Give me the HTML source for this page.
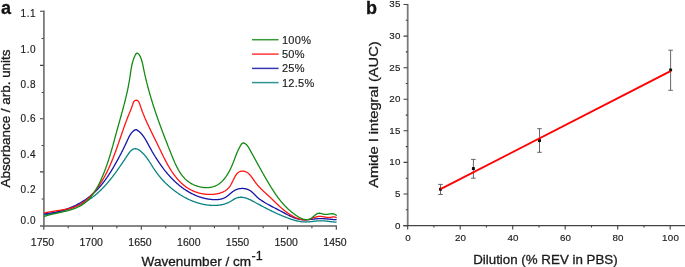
<!DOCTYPE html>
<html><head><meta charset="utf-8"><style>
html,body{margin:0;padding:0;background:#fff;}
body{width:685px;height:267px;overflow:hidden;}
svg{display:block;font-family:"Liberation Sans",sans-serif;will-change:transform;}
text{stroke:#1a1a1a;stroke-width:0.3px;}
text.t{stroke-width:0.15px;}
</style></head><body>
<svg width="685" height="267" viewBox="0 0 685 267">
<text x="1.1" y="14.2" font-size="18" font-weight="bold" fill="#111">a</text>
<path d="M43.9,10.6 V226" stroke="#7a7a7a" stroke-width="1.8" fill="none"/>
<path d="M40,226 H336.9" stroke="#5e5e5e" stroke-width="1.5" fill="none"/>
<path d="M40,11.2 H43.5 M40,65.4 H43.5 M40,118.8 H43.5 M40,171.9 H43.5 M41.6,38.5 H43.5 M41.6,92.5 H43.5 M41.6,145.5 H43.5 M41.6,199.0 H43.5 M43.8,226.2 V229.8 M92.5,226.2 V229.8 M141.3,226.2 V229.8 M190.1,226.2 V229.8 M238.8,226.2 V229.8 M287.6,226.2 V229.8 M336.3,226.2 V229.8 M68.2,226.2 V228.2 M116.9,226.2 V228.2 M165.7,226.2 V228.2 M214.4,226.2 V228.2 M263.2,226.2 V228.2 M311.9,226.2 V228.2" stroke="#404040" stroke-width="1.1" fill="none"/>
<text class="t" x="36.2" y="16.6" font-size="10" text-anchor="end" letter-spacing="0.6" fill="#1a1a1a">1.1</text>
<text class="t" x="36.2" y="53.1" font-size="10" text-anchor="end" letter-spacing="0.6" fill="#1a1a1a">1.0</text>
<text class="t" x="36.2" y="88.1" font-size="10" text-anchor="end" letter-spacing="0.6" fill="#1a1a1a">0.8</text>
<text class="t" x="36.2" y="122.1" font-size="10" text-anchor="end" letter-spacing="0.6" fill="#1a1a1a">0.6</text>
<text class="t" x="36.2" y="157.8" font-size="10" text-anchor="end" letter-spacing="0.6" fill="#1a1a1a">0.4</text>
<text class="t" x="36.2" y="193.1" font-size="10" text-anchor="end" letter-spacing="0.6" fill="#1a1a1a">0.2</text>
<text class="t" x="36.2" y="224.0" font-size="10" text-anchor="end" letter-spacing="0.6" fill="#1a1a1a">0.0</text>
<text class="t" x="42.5" y="245.9" font-size="10.5" text-anchor="middle" fill="#1a1a1a">1750</text>
<text class="t" x="91.2" y="245.9" font-size="10.5" text-anchor="middle" fill="#1a1a1a">1700</text>
<text class="t" x="140.0" y="245.9" font-size="10.5" text-anchor="middle" fill="#1a1a1a">1650</text>
<text class="t" x="188.8" y="245.9" font-size="10.5" text-anchor="middle" fill="#1a1a1a">1600</text>
<text class="t" x="237.5" y="245.9" font-size="10.5" text-anchor="middle" fill="#1a1a1a">1550</text>
<text class="t" x="286.2" y="245.9" font-size="10.5" text-anchor="middle" fill="#1a1a1a">1500</text>
<text class="t" x="335.0" y="245.9" font-size="10.5" text-anchor="middle" fill="#1a1a1a">1450</text>
<text x="141.6" y="266" font-size="12.5" fill="#1a1a1a" textLength="109.5" lengthAdjust="spacingAndGlyphs">Wavenumber / cm</text>
<text x="251.5" y="260.3" font-size="12.5" fill="#1a1a1a">-1</text>
<text transform="translate(10.3,118.5) rotate(-90)" font-size="12.5" text-anchor="middle" fill="#1a1a1a" textLength="138" lengthAdjust="spacingAndGlyphs">Absorbance / arb. units</text>
<path d="M43.98,214.95 L44.48,214.87 L44.97,214.79 L45.47,214.71 L45.96,214.63 L46.45,214.55 L46.95,214.47 L47.44,214.39 L47.93,214.30 L48.42,214.22 L48.92,214.13 L49.41,214.04 L49.90,213.95 L50.39,213.86 L50.88,213.77 L51.38,213.68 L51.87,213.58 L52.36,213.48 L52.85,213.39 L53.34,213.29 L53.83,213.19 L54.32,213.08 L54.81,212.98 L55.29,212.87 L55.78,212.77 L56.27,212.66 L56.76,212.55 L57.25,212.44 L57.73,212.32 L58.22,212.21 L58.71,212.09 L59.19,211.97 L59.68,211.85 L60.16,211.73 L60.65,211.61 L61.13,211.48 L61.61,211.35 L62.10,211.22 L62.58,211.09 L63.06,210.96 L63.54,210.82 L64.02,210.69 L64.50,210.55 L64.98,210.41 L65.46,210.26 L65.94,210.12 L66.42,209.97 L66.90,209.82 L67.37,209.67 L67.85,209.52 L68.33,209.36 L68.80,209.21 L69.27,209.05 L69.75,208.89 L70.22,208.72 L70.69,208.56 L71.16,208.39 L71.63,208.22 L72.10,208.04 L72.57,207.87 L73.04,207.69 L73.50,207.51 L73.97,207.33 L74.43,207.14 L74.90,206.96 L75.36,206.77 L75.82,206.58 L76.28,206.38 L76.74,206.19 L77.20,205.99 L77.66,205.78 L78.12,205.58 L78.57,205.37 L79.03,205.16 L79.48,204.95 L79.93,204.74 L80.38,204.52 L80.83,204.30 L81.28,204.08 L81.72,203.85 L82.17,203.62 L82.61,203.39 L83.05,203.16 L83.49,202.92 L83.93,202.68 L84.37,202.44 L84.81,202.20 L85.24,201.95 L85.68,201.70 L86.11,201.45 L86.54,201.19 L86.97,200.93 L87.39,200.67 L87.82,200.41 L88.24,200.14 L88.66,199.87 L89.08,199.60 L89.50,199.32 L89.91,199.05 L90.33,198.76 L90.74,198.48 L91.15,198.19 L91.56,197.90 L91.96,197.61 L92.36,197.32 L92.77,197.02 L93.16,196.72 L93.56,196.41 L93.96,196.11 L94.35,195.80 L94.74,195.48 L95.13,195.17 L95.52,194.85 L95.90,194.53 L96.28,194.21 L96.66,193.89 L97.04,193.56 L97.42,193.23 L97.79,192.90 L98.16,192.56 L98.53,192.23 L98.90,191.89 L99.27,191.55 L99.63,191.21 L99.99,190.86 L100.36,190.51 L100.71,190.17 L101.07,189.82 L101.43,189.46 L101.78,189.11 L102.13,188.75 L102.48,188.40 L102.83,188.04 L103.17,187.68 L103.52,187.32 L103.86,186.95 L104.20,186.59 L104.54,186.22 L104.88,185.85 L105.22,185.48 L105.55,185.11 L105.89,184.74 L106.22,184.36 L106.55,183.99 L106.88,183.61 L107.20,183.23 L107.53,182.85 L107.85,182.47 L108.18,182.09 L108.50,181.71 L108.82,181.32 L109.14,180.94 L109.46,180.55 L109.77,180.16 L110.09,179.78 L110.40,179.39 L110.71,179.00 L111.02,178.60 L111.33,178.21 L111.64,177.82 L111.95,177.42 L112.26,177.03 L112.56,176.63 L112.87,176.24 L113.17,175.84 L113.47,175.44 L113.77,175.04 L114.07,174.64 L114.37,174.24 L114.67,173.84 L114.97,173.44 L115.27,173.04 L115.56,172.63 L115.86,172.23 L116.15,171.82 L116.44,171.42 L116.73,171.01 L117.03,170.61 L117.32,170.20 L117.61,169.79 L117.90,169.38 L118.18,168.97 L118.47,168.57 L118.76,168.16 L119.04,167.75 L119.33,167.34 L119.62,166.93 L119.90,166.51 L120.18,166.10 L120.47,165.69 L120.75,165.28 L121.03,164.87 L121.32,164.45 L121.60,164.04 L121.88,163.63 L122.16,163.21 L122.44,162.80 L122.72,162.38 L123.00,161.97 L123.28,161.56 L123.56,161.14 L123.84,160.73 L124.12,160.31 L124.40,159.90 L124.67,159.48 L124.95,159.06 L125.23,158.65 L125.51,158.23 L125.79,157.82 L126.06,157.40 L126.34,156.99 L126.62,156.57 L126.90,156.15 L127.17,155.74 L127.45,155.32 L127.73,154.91 L128.01,154.49 L128.29,154.08 L128.57,153.66 L128.86,153.25 L129.15,152.85 L129.45,152.45 L129.75,152.05 L130.07,151.67 L130.40,151.29 L130.74,150.92 L131.09,150.57 L131.46,150.23 L131.85,149.92 L132.26,149.63 L132.69,149.37 L133.14,149.15 L133.61,148.98 L134.09,148.85 L134.58,148.78 L135.08,148.75 L135.58,148.77 L136.08,148.83 L136.57,148.93 L137.05,149.07 L137.52,149.24 L137.97,149.44 L138.42,149.68 L138.85,149.93 L139.26,150.21 L139.67,150.50 L140.07,150.80 L140.46,151.11 L140.85,151.42 L141.23,151.74 L141.61,152.07 L141.98,152.41 L142.35,152.75 L142.70,153.10 L143.06,153.45 L143.41,153.81 L143.75,154.18 L144.09,154.54 L144.42,154.92 L144.75,155.30 L145.07,155.68 L145.39,156.06 L145.70,156.45 L146.01,156.84 L146.32,157.24 L146.62,157.64 L146.92,158.04 L147.22,158.44 L147.51,158.85 L147.80,159.26 L148.08,159.67 L148.36,160.08 L148.64,160.49 L148.92,160.91 L149.20,161.33 L149.47,161.75 L149.75,162.16 L150.02,162.59 L150.29,163.01 L150.55,163.43 L150.82,163.85 L151.09,164.27 L151.35,164.70 L151.62,165.12 L151.89,165.54 L152.15,165.97 L152.42,166.39 L152.69,166.81 L152.95,167.24 L153.22,167.66 L153.49,168.08 L153.76,168.50 L154.03,168.92 L154.31,169.34 L154.58,169.75 L154.86,170.17 L155.14,170.58 L155.43,171.00 L155.71,171.41 L156.00,171.82 L156.29,172.22 L156.58,172.63 L156.88,173.03 L157.18,173.43 L157.48,173.83 L157.78,174.23 L158.08,174.63 L158.39,175.02 L158.70,175.41 L159.01,175.80 L159.33,176.19 L159.65,176.58 L159.96,176.96 L160.29,177.35 L160.61,177.73 L160.94,178.11 L161.27,178.48 L161.60,178.86 L161.93,179.23 L162.26,179.60 L162.60,179.97 L162.94,180.34 L163.28,180.70 L163.63,181.07 L163.97,181.43 L164.32,181.79 L164.67,182.14 L165.02,182.50 L165.38,182.85 L165.74,183.20 L166.09,183.55 L166.45,183.90 L166.82,184.24 L167.18,184.58 L167.55,184.92 L167.92,185.26 L168.29,185.60 L168.66,185.93 L169.03,186.27 L169.41,186.60 L169.78,186.92 L170.16,187.25 L170.54,187.57 L170.93,187.90 L171.31,188.22 L171.70,188.53 L172.08,188.85 L172.47,189.16 L172.87,189.47 L173.26,189.78 L173.65,190.09 L174.05,190.40 L174.45,190.70 L174.85,191.00 L175.25,191.30 L175.65,191.59 L176.06,191.89 L176.46,192.18 L176.87,192.47 L177.28,192.75 L177.69,193.04 L178.11,193.32 L178.52,193.60 L178.94,193.87 L179.36,194.15 L179.77,194.42 L180.20,194.69 L180.62,194.96 L181.04,195.22 L181.47,195.48 L181.90,195.74 L182.33,196.00 L182.76,196.25 L183.19,196.50 L183.62,196.75 L184.06,197.00 L184.50,197.24 L184.94,197.48 L185.38,197.72 L185.82,197.95 L186.26,198.18 L186.71,198.41 L187.15,198.64 L187.60,198.86 L188.05,199.08 L188.50,199.29 L188.95,199.51 L189.41,199.72 L189.86,199.92 L190.32,200.13 L190.78,200.33 L191.24,200.53 L191.70,200.72 L192.16,200.91 L192.62,201.10 L193.09,201.28 L193.55,201.46 L194.02,201.64 L194.49,201.81 L194.96,201.98 L195.43,202.15 L195.91,202.31 L196.38,202.47 L196.86,202.62 L197.33,202.78 L197.81,202.92 L198.29,203.07 L198.77,203.21 L199.25,203.34 L199.73,203.47 L200.22,203.60 L200.70,203.73 L201.19,203.85 L201.67,203.96 L202.16,204.07 L202.65,204.18 L203.14,204.29 L203.63,204.38 L204.12,204.48 L204.61,204.57 L205.10,204.66 L205.60,204.74 L206.09,204.81 L206.59,204.89 L207.08,204.95 L207.58,205.02 L208.07,205.08 L208.57,205.13 L209.07,205.18 L209.57,205.23 L210.06,205.27 L210.56,205.30 L211.06,205.33 L211.56,205.36 L212.06,205.38 L212.56,205.39 L213.06,205.41 L213.56,205.41 L214.06,205.41 L214.56,205.41 L215.06,205.40 L215.56,205.39 L216.06,205.37 L216.56,205.34 L217.06,205.31 L217.56,205.27 L218.06,205.23 L218.55,205.18 L219.05,205.13 L219.55,205.06 L220.04,205.00 L220.54,204.92 L221.03,204.84 L221.52,204.74 L222.01,204.65 L222.50,204.54 L222.99,204.43 L223.47,204.30 L223.95,204.17 L224.44,204.03 L224.91,203.89 L225.39,203.73 L225.86,203.57 L226.33,203.40 L226.80,203.22 L227.26,203.03 L227.72,202.83 L228.18,202.63 L228.63,202.42 L229.08,202.19 L229.52,201.96 L229.96,201.73 L230.40,201.48 L230.83,201.23 L231.26,200.97 L231.69,200.71 L232.11,200.45 L232.54,200.19 L232.97,199.93 L233.39,199.67 L233.82,199.42 L234.26,199.17 L234.69,198.93 L235.14,198.69 L235.59,198.47 L236.04,198.26 L236.50,198.07 L236.97,197.90 L237.45,197.74 L237.93,197.61 L238.42,197.50 L238.91,197.40 L239.40,197.33 L239.90,197.28 L240.40,197.25 L240.90,197.24 L241.40,197.25 L241.90,197.27 L242.40,197.32 L242.89,197.38 L243.39,197.45 L243.88,197.54 L244.37,197.65 L244.85,197.77 L245.33,197.90 L245.81,198.04 L246.29,198.20 L246.76,198.36 L247.23,198.53 L247.70,198.71 L248.16,198.90 L248.62,199.09 L249.08,199.29 L249.54,199.50 L249.99,199.71 L250.44,199.93 L250.89,200.15 L251.33,200.38 L251.78,200.61 L252.22,200.84 L252.66,201.07 L253.10,201.31 L253.54,201.55 L253.98,201.79 L254.42,202.03 L254.86,202.27 L255.30,202.51 L255.74,202.75 L256.18,202.99 L256.61,203.23 L257.05,203.47 L257.49,203.71 L257.93,203.94 L258.37,204.18 L258.81,204.42 L259.25,204.66 L259.69,204.90 L260.13,205.13 L260.57,205.37 L261.01,205.60 L261.46,205.84 L261.90,206.07 L262.34,206.31 L262.78,206.54 L263.22,206.77 L263.67,207.01 L264.11,207.24 L264.55,207.47 L265.00,207.70 L265.44,207.93 L265.89,208.16 L266.33,208.39 L266.78,208.61 L267.22,208.84 L267.67,209.07 L268.11,209.29 L268.56,209.52 L269.01,209.74 L269.45,209.96 L269.90,210.19 L270.35,210.41 L270.80,210.63 L271.25,210.85 L271.70,211.07 L272.15,211.28 L272.60,211.50 L273.05,211.72 L273.50,211.93 L273.96,212.14 L274.41,212.36 L274.86,212.57 L275.31,212.78 L275.77,212.99 L276.22,213.20 L276.68,213.40 L277.13,213.61 L277.59,213.81 L278.05,214.02 L278.50,214.22 L278.96,214.42 L279.42,214.62 L279.88,214.82 L280.34,215.02 L280.80,215.22 L281.26,215.41 L281.72,215.61 L282.18,215.80 L282.64,215.99 L283.10,216.18 L283.57,216.37 L284.03,216.56 L284.49,216.74 L284.96,216.93 L285.42,217.11 L285.89,217.30 L286.36,217.48 L286.82,217.66 L287.29,217.83 L287.76,218.01 L288.23,218.19 L288.70,218.36 L289.16,218.53 L289.64,218.70 L290.11,218.87 L290.58,219.03 L291.05,219.19 L291.53,219.35 L292.00,219.51 L292.48,219.66 L292.95,219.81 L293.43,219.96 L293.91,220.10 L294.39,220.24 L294.87,220.37 L295.36,220.51 L295.84,220.63 L296.32,220.75 L296.81,220.87 L297.30,220.99 L297.79,221.09 L298.28,221.20 L298.77,221.29 L299.26,221.39 L299.75,221.47 L300.24,221.55 L300.74,221.63 L301.23,221.69 L301.73,221.76 L302.23,221.81 L302.72,221.86 L303.22,221.90 L303.72,221.93 L304.22,221.95 L304.72,221.97 L305.22,221.98 L305.72,221.98 L306.22,221.97 L306.72,221.96 L307.22,221.94 L307.72,221.91 L308.22,221.88 L308.72,221.84 L309.22,221.80 L309.71,221.75 L310.21,221.71 L310.71,221.65 L311.21,221.60 L311.70,221.54 L312.20,221.49 L312.70,221.43 L313.19,221.37 L313.69,221.31 L314.19,221.26 L314.68,221.20 L315.18,221.14 L315.68,221.09 L316.18,221.04 L316.67,221.00 L317.17,220.95 L317.67,220.91 L318.17,220.88 L318.67,220.85 L319.17,220.83 L319.67,220.81 L320.17,220.80 L320.67,220.79 L321.17,220.80 L321.67,220.80 L322.17,220.82 L322.67,220.84 L323.17,220.86 L323.67,220.89 L324.16,220.93 L324.66,220.97 L325.16,221.01 L325.66,221.05 L326.16,221.10 L326.65,221.15 L327.15,221.21 L327.65,221.26 L328.15,221.32 L328.64,221.38 L329.14,221.43 L329.64,221.49 L330.13,221.55 L330.63,221.61 L331.13,221.67 L331.62,221.73 L332.12,221.79 L332.62,221.84 L333.11,221.90 L333.61,221.95 L334.11,222.00 L334.61,222.05 L335.10,222.09 L335.60,222.13 L336.10,222.16 L336.60,222.20" stroke="#0a8282" stroke-width="1.3" fill="none" stroke-linejoin="round"/>
<path d="M43.98,213.83 L44.48,213.79 L44.98,213.75 L45.47,213.70 L45.97,213.65 L46.47,213.60 L46.97,213.54 L47.47,213.49 L47.96,213.43 L48.46,213.36 L48.96,213.30 L49.45,213.23 L49.95,213.16 L50.44,213.09 L50.94,213.01 L51.43,212.93 L51.92,212.85 L52.42,212.77 L52.91,212.68 L53.40,212.59 L53.90,212.50 L54.39,212.41 L54.88,212.31 L55.37,212.21 L55.86,212.11 L56.35,212.00 L56.84,211.89 L57.32,211.78 L57.81,211.67 L58.30,211.55 L58.78,211.43 L59.27,211.31 L59.75,211.18 L60.24,211.06 L60.72,210.93 L61.20,210.79 L61.69,210.66 L62.17,210.52 L62.65,210.38 L63.13,210.23 L63.60,210.09 L64.08,209.94 L64.56,209.78 L65.03,209.63 L65.51,209.47 L65.98,209.31 L66.46,209.15 L66.93,208.98 L67.40,208.81 L67.87,208.64 L68.34,208.46 L68.81,208.29 L69.27,208.11 L69.74,207.92 L70.20,207.74 L70.67,207.55 L71.13,207.36 L71.59,207.16 L72.05,206.97 L72.51,206.77 L72.97,206.57 L73.43,206.36 L73.88,206.15 L74.33,205.94 L74.79,205.73 L75.24,205.51 L75.69,205.29 L76.14,205.07 L76.58,204.84 L77.03,204.62 L77.47,204.39 L77.92,204.15 L78.36,203.92 L78.80,203.68 L79.24,203.44 L79.67,203.19 L80.11,202.95 L80.54,202.70 L80.97,202.44 L81.41,202.19 L81.83,201.93 L82.26,201.67 L82.69,201.41 L83.11,201.14 L83.53,200.87 L83.95,200.60 L84.37,200.32 L84.79,200.05 L85.20,199.77 L85.62,199.49 L86.03,199.20 L86.44,198.91 L86.84,198.62 L87.25,198.33 L87.65,198.03 L88.06,197.73 L88.46,197.43 L88.85,197.13 L89.25,196.82 L89.64,196.51 L90.03,196.20 L90.42,195.89 L90.81,195.57 L91.20,195.25 L91.58,194.93 L91.96,194.60 L92.34,194.28 L92.72,193.95 L93.09,193.62 L93.46,193.28 L93.83,192.94 L94.20,192.60 L94.56,192.26 L94.93,191.92 L95.29,191.57 L95.65,191.22 L96.00,190.87 L96.36,190.51 L96.71,190.16 L97.06,189.80 L97.40,189.44 L97.75,189.07 L98.09,188.71 L98.43,188.34 L98.76,187.97 L99.10,187.60 L99.43,187.22 L99.76,186.85 L100.09,186.47 L100.42,186.09 L100.74,185.71 L101.06,185.32 L101.38,184.94 L101.70,184.55 L102.01,184.16 L102.33,183.77 L102.64,183.38 L102.95,182.99 L103.26,182.59 L103.56,182.20 L103.86,181.80 L104.17,181.40 L104.47,181.00 L104.76,180.60 L105.06,180.19 L105.36,179.79 L105.65,179.38 L105.94,178.98 L106.23,178.57 L106.52,178.16 L106.80,177.75 L107.09,177.34 L107.37,176.92 L107.65,176.51 L107.93,176.09 L108.21,175.68 L108.49,175.26 L108.76,174.84 L109.03,174.42 L109.31,174.00 L109.58,173.58 L109.85,173.16 L110.12,172.74 L110.38,172.32 L110.65,171.89 L110.91,171.47 L111.18,171.04 L111.44,170.61 L111.70,170.19 L111.96,169.76 L112.22,169.33 L112.48,168.90 L112.73,168.47 L112.99,168.04 L113.24,167.61 L113.49,167.18 L113.75,166.75 L114.00,166.31 L114.25,165.88 L114.50,165.45 L114.75,165.01 L114.99,164.58 L115.24,164.14 L115.49,163.70 L115.73,163.27 L115.98,162.83 L116.22,162.39 L116.46,161.96 L116.71,161.52 L116.95,161.08 L117.19,160.64 L117.43,160.20 L117.67,159.76 L117.91,159.33 L118.15,158.89 L118.39,158.45 L118.62,158.01 L118.86,157.56 L119.10,157.12 L119.33,156.68 L119.57,156.24 L119.80,155.80 L120.04,155.36 L120.27,154.91 L120.50,154.47 L120.74,154.03 L120.97,153.58 L121.20,153.14 L121.43,152.69 L121.66,152.25 L121.88,151.80 L122.11,151.36 L122.34,150.91 L122.56,150.46 L122.79,150.02 L123.01,149.57 L123.23,149.12 L123.46,148.67 L123.68,148.22 L123.90,147.77 L124.12,147.32 L124.34,146.87 L124.55,146.42 L124.77,145.97 L124.99,145.52 L125.20,145.07 L125.41,144.61 L125.63,144.16 L125.84,143.71 L126.05,143.26 L126.26,142.80 L126.47,142.35 L126.68,141.89 L126.89,141.44 L127.10,140.98 L127.30,140.53 L127.51,140.07 L127.72,139.61 L127.93,139.16 L128.14,138.71 L128.35,138.25 L128.57,137.80 L128.79,137.35 L129.02,136.91 L129.25,136.46 L129.49,136.02 L129.73,135.59 L129.98,135.16 L130.25,134.73 L130.52,134.31 L130.80,133.89 L131.09,133.49 L131.39,133.09 L131.71,132.70 L132.03,132.32 L132.37,131.95 L132.73,131.60 L133.09,131.26 L133.47,130.93 L133.87,130.62 L134.28,130.34 L134.71,130.08 L135.17,129.88 L135.65,129.76 L136.15,129.75 L136.63,129.87 L137.09,130.08 L137.52,130.34 L137.93,130.62 L138.33,130.92 L138.73,131.22 L139.12,131.54 L139.50,131.86 L139.87,132.19 L140.24,132.54 L140.60,132.89 L140.94,133.25 L141.29,133.61 L141.62,133.99 L141.94,134.37 L142.26,134.75 L142.57,135.15 L142.88,135.54 L143.18,135.94 L143.47,136.35 L143.76,136.76 L144.04,137.17 L144.32,137.59 L144.59,138.01 L144.85,138.44 L145.12,138.86 L145.37,139.29 L145.63,139.72 L145.88,140.15 L146.13,140.59 L146.38,141.02 L146.62,141.46 L146.86,141.90 L147.11,142.34 L147.34,142.78 L147.58,143.22 L147.82,143.66 L148.06,144.10 L148.29,144.54 L148.53,144.98 L148.77,145.42 L149.01,145.86 L149.25,146.30 L149.49,146.74 L149.73,147.18 L149.97,147.62 L150.21,148.05 L150.45,148.49 L150.70,148.93 L150.94,149.36 L151.19,149.80 L151.44,150.24 L151.69,150.67 L151.93,151.10 L152.18,151.54 L152.44,151.97 L152.69,152.40 L152.94,152.83 L153.19,153.27 L153.45,153.70 L153.71,154.13 L153.96,154.56 L154.22,154.98 L154.48,155.41 L154.74,155.84 L155.00,156.27 L155.27,156.69 L155.53,157.12 L155.80,157.54 L156.06,157.97 L156.33,158.39 L156.60,158.81 L156.87,159.23 L157.14,159.65 L157.41,160.07 L157.69,160.49 L157.96,160.91 L158.24,161.33 L158.52,161.74 L158.80,162.16 L159.08,162.57 L159.36,162.99 L159.64,163.40 L159.93,163.81 L160.21,164.22 L160.50,164.63 L160.79,165.04 L161.08,165.45 L161.37,165.85 L161.67,166.26 L161.96,166.66 L162.26,167.07 L162.55,167.47 L162.85,167.87 L163.15,168.27 L163.46,168.67 L163.76,169.07 L164.07,169.46 L164.37,169.86 L164.68,170.25 L164.99,170.64 L165.30,171.04 L165.62,171.43 L165.93,171.81 L166.25,172.20 L166.57,172.59 L166.89,172.97 L167.21,173.35 L167.54,173.74 L167.86,174.12 L168.19,174.49 L168.52,174.87 L168.85,175.25 L169.18,175.62 L169.52,175.99 L169.85,176.36 L170.19,176.73 L170.53,177.10 L170.87,177.47 L171.22,177.83 L171.56,178.19 L171.91,178.55 L172.26,178.91 L172.61,179.27 L172.96,179.62 L173.32,179.98 L173.67,180.33 L174.03,180.68 L174.39,181.02 L174.76,181.37 L175.12,181.71 L175.49,182.05 L175.86,182.39 L176.23,182.73 L176.60,183.06 L176.97,183.39 L177.35,183.72 L177.73,184.05 L178.11,184.37 L178.49,184.70 L178.88,185.02 L179.26,185.34 L179.65,185.65 L180.04,185.97 L180.43,186.28 L180.83,186.58 L181.22,186.89 L181.62,187.19 L182.02,187.49 L182.43,187.79 L182.83,188.09 L183.24,188.38 L183.64,188.67 L184.05,188.95 L184.47,189.24 L184.88,189.52 L185.30,189.80 L185.71,190.07 L186.13,190.35 L186.56,190.62 L186.98,190.88 L187.41,191.14 L187.83,191.40 L188.26,191.66 L188.70,191.91 L189.13,192.17 L189.56,192.41 L190.00,192.66 L190.44,192.90 L190.88,193.13 L191.32,193.37 L191.77,193.60 L192.22,193.82 L192.66,194.04 L193.11,194.26 L193.57,194.48 L194.02,194.69 L194.48,194.90 L194.93,195.10 L195.39,195.30 L195.85,195.49 L196.31,195.69 L196.78,195.87 L197.24,196.06 L197.71,196.24 L198.18,196.41 L198.65,196.58 L199.12,196.75 L199.60,196.91 L200.07,197.07 L200.55,197.22 L201.02,197.37 L201.50,197.52 L201.98,197.66 L202.47,197.80 L202.95,197.93 L203.43,198.06 L203.92,198.18 L204.40,198.30 L204.89,198.41 L205.38,198.52 L205.87,198.62 L206.36,198.72 L206.85,198.82 L207.34,198.91 L207.84,199.00 L208.33,199.08 L208.82,199.15 L209.32,199.23 L209.82,199.29 L210.31,199.36 L210.81,199.41 L211.31,199.47 L211.81,199.51 L212.30,199.56 L212.80,199.59 L213.30,199.62 L213.80,199.64 L214.30,199.66 L214.80,199.67 L215.30,199.67 L215.80,199.67 L216.31,199.66 L216.81,199.63 L217.30,199.60 L217.80,199.56 L218.30,199.52 L218.80,199.46 L219.29,199.39 L219.79,199.31 L220.28,199.22 L220.77,199.11 L221.26,199.00 L221.74,198.87 L222.22,198.73 L222.70,198.57 L223.17,198.40 L223.63,198.22 L224.09,198.02 L224.55,197.81 L224.99,197.58 L225.43,197.34 L225.86,197.08 L226.28,196.81 L226.69,196.52 L227.10,196.23 L227.50,195.93 L227.90,195.63 L228.29,195.31 L228.67,195.00 L229.06,194.68 L229.44,194.36 L229.82,194.03 L230.20,193.71 L230.59,193.38 L230.97,193.06 L231.36,192.74 L231.74,192.43 L232.14,192.12 L232.53,191.81 L232.94,191.52 L233.35,191.23 L233.76,190.95 L234.19,190.69 L234.62,190.43 L235.06,190.19 L235.51,189.97 L235.96,189.76 L236.42,189.57 L236.89,189.39 L237.36,189.23 L237.84,189.08 L238.33,188.95 L238.81,188.83 L239.30,188.73 L239.80,188.65 L240.29,188.58 L240.79,188.53 L241.29,188.49 L241.79,188.47 L242.29,188.46 L242.79,188.47 L243.29,188.49 L243.79,188.53 L244.29,188.59 L244.78,188.66 L245.27,188.75 L245.76,188.85 L246.25,188.97 L246.73,189.11 L247.21,189.26 L247.68,189.43 L248.14,189.62 L248.60,189.82 L249.05,190.04 L249.49,190.28 L249.92,190.53 L250.34,190.80 L250.75,191.09 L251.16,191.38 L251.55,191.69 L251.93,192.01 L252.31,192.34 L252.68,192.68 L253.05,193.02 L253.41,193.37 L253.77,193.72 L254.12,194.07 L254.47,194.43 L254.82,194.79 L255.17,195.15 L255.52,195.50 L255.87,195.86 L256.22,196.21 L256.58,196.57 L256.94,196.91 L257.31,197.26 L257.68,197.59 L258.05,197.92 L258.44,198.24 L258.83,198.56 L259.22,198.86 L259.62,199.16 L260.03,199.46 L260.44,199.75 L260.85,200.03 L261.26,200.31 L261.68,200.59 L262.10,200.86 L262.52,201.13 L262.94,201.40 L263.37,201.66 L263.79,201.93 L264.22,202.19 L264.65,202.45 L265.08,202.71 L265.51,202.96 L265.94,203.21 L266.37,203.47 L266.81,203.72 L267.24,203.96 L267.68,204.21 L268.11,204.45 L268.55,204.70 L268.99,204.94 L269.43,205.18 L269.87,205.42 L270.31,205.65 L270.75,205.89 L271.19,206.12 L271.64,206.36 L272.08,206.59 L272.52,206.82 L272.96,207.06 L273.41,207.29 L273.85,207.52 L274.30,207.75 L274.74,207.98 L275.19,208.21 L275.63,208.44 L276.08,208.67 L276.52,208.90 L276.97,209.13 L277.41,209.36 L277.86,209.59 L278.30,209.82 L278.74,210.05 L279.19,210.28 L279.63,210.51 L280.07,210.74 L280.52,210.97 L280.96,211.21 L281.40,211.44 L281.84,211.68 L282.29,211.91 L282.73,212.15 L283.17,212.39 L283.61,212.63 L284.05,212.87 L284.49,213.11 L284.93,213.34 L285.37,213.58 L285.81,213.82 L286.25,214.06 L286.69,214.29 L287.13,214.53 L287.58,214.76 L288.02,214.99 L288.46,215.22 L288.91,215.44 L289.36,215.67 L289.81,215.89 L290.26,216.11 L290.71,216.32 L291.16,216.54 L291.62,216.74 L292.08,216.95 L292.53,217.15 L293.00,217.34 L293.46,217.53 L293.92,217.72 L294.39,217.90 L294.86,218.07 L295.33,218.24 L295.81,218.40 L296.28,218.55 L296.76,218.69 L297.24,218.83 L297.73,218.96 L298.21,219.08 L298.70,219.19 L299.19,219.30 L299.68,219.39 L300.18,219.47 L300.67,219.54 L301.17,219.60 L301.67,219.66 L302.16,219.70 L302.66,219.73 L303.16,219.76 L303.66,219.77 L304.16,219.78 L304.66,219.78 L305.16,219.78 L305.67,219.77 L306.17,219.75 L306.67,219.73 L307.17,219.70 L307.66,219.67 L308.16,219.63 L308.66,219.59 L309.16,219.55 L309.66,219.51 L310.16,219.46 L310.66,219.41 L311.15,219.36 L311.65,219.30 L312.15,219.25 L312.65,219.20 L313.14,219.14 L313.64,219.09 L314.14,219.04 L314.64,218.98 L315.14,218.93 L315.63,218.89 L316.13,218.84 L316.63,218.80 L317.13,218.76 L317.63,218.72 L318.13,218.69 L318.63,218.66 L319.13,218.64 L319.63,218.63 L320.13,218.61 L320.63,218.61 L321.13,218.61 L321.63,218.61 L322.13,218.63 L322.63,218.64 L323.13,218.66 L323.63,218.69 L324.13,218.71 L324.63,218.74 L325.13,218.78 L325.63,218.82 L326.13,218.86 L326.63,218.90 L327.13,218.94 L327.62,218.99 L328.12,219.03 L328.62,219.08 L329.12,219.13 L329.62,219.18 L330.12,219.22 L330.61,219.27 L331.11,219.32 L331.61,219.36 L332.11,219.41 L332.61,219.45 L333.11,219.49 L333.60,219.53 L334.10,219.57 L334.60,219.60 L335.10,219.63 L335.60,219.66 L336.10,219.68 L336.60,219.70" stroke="#1414a6" stroke-width="1.3" fill="none" stroke-linejoin="round"/>
<path d="M44.00,213.19 L44.49,213.06 L44.97,212.93 L45.46,212.81 L45.94,212.69 L46.43,212.58 L46.92,212.47 L47.41,212.36 L47.90,212.26 L48.39,212.16 L48.88,212.06 L49.37,211.97 L49.86,211.88 L50.35,211.79 L50.84,211.70 L51.34,211.61 L51.83,211.53 L52.32,211.45 L52.82,211.37 L53.31,211.29 L53.81,211.21 L54.30,211.13 L54.80,211.06 L55.29,210.98 L55.78,210.91 L56.28,210.83 L56.77,210.76 L57.27,210.68 L57.76,210.61 L58.26,210.54 L58.75,210.46 L59.25,210.39 L59.74,210.31 L60.24,210.24 L60.73,210.16 L61.23,210.08 L61.72,210.00 L62.21,209.92 L62.71,209.84 L63.20,209.75 L63.69,209.67 L64.19,209.58 L64.68,209.49 L65.17,209.40 L65.66,209.31 L66.15,209.21 L66.64,209.11 L67.13,209.01 L67.62,208.90 L68.11,208.79 L68.60,208.68 L69.08,208.56 L69.57,208.45 L70.05,208.32 L70.54,208.20 L71.02,208.06 L71.50,207.93 L71.98,207.79 L72.46,207.64 L72.94,207.49 L73.41,207.34 L73.89,207.18 L74.36,207.01 L74.83,206.84 L75.30,206.67 L75.77,206.49 L76.23,206.30 L76.69,206.10 L77.15,205.90 L77.60,205.70 L78.06,205.48 L78.51,205.26 L78.95,205.04 L79.39,204.80 L79.83,204.56 L80.27,204.32 L80.70,204.07 L81.13,203.81 L81.56,203.55 L81.98,203.28 L82.40,203.01 L82.82,202.73 L83.23,202.44 L83.64,202.16 L84.04,201.86 L84.44,201.56 L84.84,201.26 L85.24,200.95 L85.63,200.64 L86.02,200.33 L86.40,200.01 L86.78,199.68 L87.16,199.36 L87.54,199.02 L87.91,198.69 L88.28,198.35 L88.64,198.01 L89.00,197.66 L89.36,197.32 L89.72,196.96 L90.07,196.61 L90.42,196.25 L90.77,195.89 L91.11,195.53 L91.45,195.16 L91.79,194.80 L92.13,194.43 L92.46,194.05 L92.79,193.68 L93.12,193.30 L93.45,192.92 L93.77,192.54 L94.09,192.15 L94.41,191.77 L94.72,191.38 L95.04,190.99 L95.35,190.60 L95.66,190.20 L95.96,189.81 L96.27,189.41 L96.57,189.01 L96.87,188.61 L97.17,188.21 L97.46,187.80 L97.75,187.40 L98.05,186.99 L98.33,186.58 L98.62,186.17 L98.91,185.76 L99.19,185.35 L99.47,184.93 L99.75,184.52 L100.02,184.10 L100.30,183.68 L100.57,183.26 L100.84,182.84 L101.11,182.42 L101.37,182.00 L101.64,181.57 L101.90,181.14 L102.16,180.72 L102.42,180.29 L102.67,179.86 L102.93,179.43 L103.18,179.00 L103.43,178.56 L103.68,178.13 L103.92,177.69 L104.17,177.26 L104.41,176.82 L104.65,176.38 L104.89,175.94 L105.13,175.50 L105.36,175.06 L105.60,174.62 L105.83,174.17 L106.06,173.73 L106.29,173.28 L106.51,172.84 L106.74,172.39 L106.96,171.94 L107.19,171.49 L107.41,171.05 L107.62,170.60 L107.84,170.15 L108.06,169.69 L108.27,169.24 L108.48,168.79 L108.70,168.34 L108.90,167.88 L109.11,167.43 L109.32,166.97 L109.53,166.51 L109.73,166.06 L109.93,165.60 L110.13,165.14 L110.33,164.68 L110.53,164.22 L110.73,163.77 L110.93,163.30 L111.12,162.84 L111.32,162.38 L111.51,161.92 L111.70,161.46 L111.89,161.00 L112.08,160.53 L112.27,160.07 L112.46,159.61 L112.64,159.14 L112.83,158.68 L113.01,158.21 L113.19,157.75 L113.38,157.28 L113.56,156.81 L113.74,156.35 L113.92,155.88 L114.10,155.41 L114.27,154.95 L114.45,154.48 L114.63,154.01 L114.80,153.54 L114.98,153.07 L115.15,152.60 L115.32,152.13 L115.50,151.66 L115.67,151.19 L115.84,150.72 L116.01,150.25 L116.18,149.78 L116.35,149.31 L116.52,148.84 L116.69,148.37 L116.85,147.90 L117.02,147.43 L117.19,146.95 L117.35,146.48 L117.52,146.01 L117.69,145.54 L117.85,145.07 L118.02,144.59 L118.18,144.12 L118.34,143.65 L118.51,143.18 L118.67,142.70 L118.83,142.23 L119.00,141.76 L119.16,141.28 L119.32,140.81 L119.49,140.34 L119.65,139.87 L119.81,139.39 L119.97,138.92 L120.13,138.45 L120.30,137.97 L120.46,137.50 L120.62,137.03 L120.78,136.55 L120.94,136.08 L121.11,135.61 L121.27,135.13 L121.43,134.66 L121.59,134.19 L121.76,133.71 L121.92,133.24 L122.08,132.77 L122.25,132.29 L122.41,131.82 L122.57,131.35 L122.74,130.88 L122.90,130.40 L123.07,129.93 L123.23,129.46 L123.40,128.99 L123.56,128.51 L123.73,128.04 L123.90,127.57 L124.07,127.10 L124.23,126.63 L124.40,126.16 L124.57,125.69 L124.74,125.22 L124.91,124.75 L125.08,124.28 L125.25,123.81 L125.43,123.34 L125.60,122.87 L125.77,122.40 L125.95,121.93 L126.12,121.46 L126.30,120.99 L126.48,120.52 L126.65,120.06 L126.83,119.59 L127.01,119.12 L127.19,118.66 L127.37,118.19 L127.56,117.72 L127.74,117.26 L127.92,116.79 L128.11,116.33 L128.30,115.86 L128.48,115.40 L128.67,114.94 L128.86,114.47 L129.05,114.01 L129.24,113.55 L129.44,113.09 L129.63,112.62 L129.82,112.16 L130.01,111.70 L130.20,111.24 L130.38,110.77 L130.57,110.31 L130.76,109.84 L130.94,109.38 L131.12,108.91 L131.30,108.44 L131.47,107.97 L131.65,107.50 L131.81,107.03 L131.98,106.56 L132.15,106.09 L132.31,105.62 L132.46,105.14 L132.62,104.67 L132.77,104.19 L132.93,103.71 L133.10,103.24 L133.28,102.78 L133.49,102.32 L133.73,101.88 L134.00,101.47 L134.32,101.08 L134.70,100.76 L135.13,100.50 L135.60,100.32 L136.09,100.24 L136.59,100.26 L137.07,100.38 L137.53,100.59 L137.94,100.88 L138.30,101.22 L138.61,101.61 L138.87,102.04 L139.11,102.48 L139.31,102.94 L139.50,103.40 L139.67,103.87 L139.83,104.34 L139.99,104.82 L140.14,105.30 L140.30,105.77 L140.46,106.24 L140.62,106.72 L140.78,107.19 L140.94,107.67 L141.11,108.14 L141.27,108.61 L141.44,109.08 L141.61,109.55 L141.78,110.02 L141.96,110.49 L142.13,110.96 L142.31,111.43 L142.48,111.90 L142.66,112.36 L142.84,112.83 L143.02,113.30 L143.21,113.76 L143.39,114.23 L143.58,114.69 L143.77,115.16 L143.95,115.62 L144.14,116.08 L144.34,116.54 L144.53,117.00 L144.72,117.47 L144.92,117.93 L145.12,118.39 L145.31,118.85 L145.51,119.30 L145.71,119.76 L145.91,120.22 L146.12,120.68 L146.32,121.14 L146.53,121.59 L146.73,122.05 L146.94,122.50 L147.14,122.96 L147.35,123.41 L147.56,123.87 L147.77,124.32 L147.98,124.78 L148.19,125.23 L148.41,125.68 L148.62,126.14 L148.83,126.59 L149.05,127.04 L149.26,127.49 L149.48,127.94 L149.69,128.40 L149.91,128.85 L150.13,129.30 L150.34,129.75 L150.56,130.20 L150.78,130.65 L151.00,131.10 L151.22,131.55 L151.44,132.00 L151.66,132.45 L151.88,132.90 L152.10,133.34 L152.32,133.79 L152.54,134.24 L152.76,134.69 L152.98,135.14 L153.20,135.59 L153.43,136.04 L153.65,136.49 L153.87,136.93 L154.09,137.38 L154.31,137.83 L154.53,138.28 L154.75,138.73 L154.98,139.18 L155.20,139.63 L155.42,140.08 L155.64,140.52 L155.86,140.97 L156.08,141.42 L156.30,141.87 L156.52,142.32 L156.74,142.77 L156.96,143.22 L157.18,143.67 L157.40,144.12 L157.62,144.57 L157.83,145.02 L158.05,145.47 L158.27,145.92 L158.49,146.37 L158.70,146.82 L158.92,147.27 L159.14,147.72 L159.35,148.18 L159.57,148.63 L159.78,149.08 L160.00,149.53 L160.22,149.98 L160.43,150.43 L160.65,150.88 L160.87,151.33 L161.09,151.78 L161.30,152.23 L161.52,152.68 L161.74,153.13 L161.96,153.58 L162.18,154.03 L162.40,154.48 L162.62,154.93 L162.84,155.38 L163.06,155.83 L163.28,156.28 L163.51,156.72 L163.73,157.17 L163.96,157.62 L164.18,158.07 L164.41,158.51 L164.64,158.96 L164.87,159.40 L165.10,159.85 L165.33,160.29 L165.56,160.73 L165.79,161.18 L166.03,161.62 L166.26,162.06 L166.50,162.50 L166.74,162.94 L166.98,163.38 L167.22,163.82 L167.46,164.26 L167.70,164.69 L167.95,165.13 L168.20,165.56 L168.44,166.00 L168.69,166.43 L168.95,166.86 L169.20,167.29 L169.46,167.72 L169.72,168.15 L169.98,168.58 L170.24,169.01 L170.50,169.43 L170.77,169.85 L171.03,170.28 L171.30,170.70 L171.58,171.12 L171.85,171.54 L172.13,171.95 L172.41,172.37 L172.69,172.78 L172.97,173.19 L173.26,173.60 L173.55,174.01 L173.84,174.42 L174.14,174.82 L174.43,175.22 L174.73,175.62 L175.04,176.02 L175.34,176.42 L175.65,176.81 L175.96,177.20 L176.28,177.59 L176.60,177.98 L176.92,178.36 L177.24,178.75 L177.57,179.12 L177.90,179.50 L178.23,179.87 L178.57,180.24 L178.91,180.61 L179.25,180.98 L179.59,181.34 L179.94,181.69 L180.30,182.05 L180.65,182.40 L181.01,182.75 L181.38,183.09 L181.74,183.43 L182.11,183.77 L182.49,184.10 L182.87,184.43 L183.25,184.75 L183.63,185.07 L184.02,185.39 L184.41,185.70 L184.81,186.01 L185.20,186.31 L185.61,186.61 L186.01,186.90 L186.42,187.19 L186.83,187.47 L187.25,187.75 L187.67,188.02 L188.09,188.29 L188.52,188.55 L188.95,188.81 L189.38,189.06 L189.81,189.31 L190.25,189.55 L190.69,189.78 L191.14,190.01 L191.59,190.24 L192.04,190.46 L192.49,190.67 L192.94,190.87 L193.40,191.07 L193.86,191.27 L194.33,191.46 L194.79,191.64 L195.26,191.82 L195.73,191.99 L196.20,192.15 L196.68,192.31 L197.16,192.46 L197.63,192.61 L198.11,192.75 L198.59,192.89 L199.08,193.02 L199.56,193.14 L200.05,193.26 L200.54,193.37 L201.02,193.48 L201.51,193.58 L202.01,193.68 L202.50,193.77 L202.99,193.85 L203.48,193.93 L203.98,194.01 L204.47,194.08 L204.97,194.14 L205.47,194.20 L205.97,194.25 L206.46,194.29 L206.96,194.33 L207.46,194.37 L207.96,194.40 L208.46,194.42 L208.96,194.44 L209.46,194.45 L209.96,194.45 L210.46,194.45 L210.96,194.44 L211.46,194.43 L211.96,194.41 L212.46,194.38 L212.96,194.35 L213.46,194.31 L213.96,194.26 L214.45,194.20 L214.95,194.14 L215.45,194.08 L215.94,194.00 L216.44,193.92 L216.93,193.83 L217.42,193.73 L217.91,193.62 L218.39,193.51 L218.88,193.39 L219.36,193.26 L219.84,193.12 L220.32,192.97 L220.80,192.82 L221.27,192.65 L221.74,192.48 L222.20,192.29 L222.66,192.10 L223.12,191.89 L223.57,191.67 L224.01,191.44 L224.45,191.20 L224.88,190.95 L225.31,190.68 L225.72,190.40 L226.13,190.11 L226.53,189.81 L226.92,189.50 L227.30,189.17 L227.67,188.83 L228.03,188.49 L228.37,188.13 L228.71,187.76 L229.04,187.38 L229.35,186.99 L229.66,186.59 L229.95,186.19 L230.23,185.77 L230.50,185.35 L230.76,184.92 L231.01,184.49 L231.25,184.05 L231.49,183.61 L231.72,183.17 L231.95,182.72 L232.17,182.28 L232.39,181.83 L232.61,181.38 L232.83,180.93 L233.04,180.47 L233.26,180.02 L233.48,179.57 L233.69,179.12 L233.91,178.67 L234.14,178.22 L234.37,177.78 L234.60,177.34 L234.84,176.90 L235.08,176.46 L235.33,176.03 L235.59,175.60 L235.86,175.18 L236.15,174.77 L236.44,174.36 L236.75,173.97 L237.08,173.59 L237.42,173.22 L237.78,172.88 L238.16,172.55 L238.56,172.25 L238.98,171.98 L239.42,171.74 L239.88,171.54 L240.35,171.38 L240.84,171.26 L241.33,171.18 L241.83,171.13 L242.33,171.11 L242.83,171.12 L243.33,171.17 L243.82,171.24 L244.31,171.33 L244.80,171.46 L245.27,171.61 L245.74,171.78 L246.20,171.98 L246.65,172.21 L247.08,172.46 L247.50,172.73 L247.91,173.02 L248.31,173.33 L248.69,173.65 L249.06,173.99 L249.41,174.34 L249.76,174.70 L250.09,175.07 L250.42,175.45 L250.74,175.84 L251.05,176.23 L251.35,176.63 L251.65,177.03 L251.94,177.43 L252.23,177.84 L252.52,178.25 L252.80,178.66 L253.08,179.08 L253.36,179.49 L253.64,179.91 L253.93,180.32 L254.21,180.73 L254.50,181.14 L254.79,181.55 L255.08,181.96 L255.38,182.36 L255.68,182.76 L255.98,183.15 L256.29,183.54 L256.61,183.93 L256.93,184.32 L257.25,184.70 L257.57,185.09 L257.90,185.46 L258.23,185.84 L258.56,186.21 L258.90,186.58 L259.24,186.95 L259.58,187.31 L259.93,187.67 L260.28,188.03 L260.63,188.39 L260.98,188.75 L261.33,189.10 L261.69,189.45 L262.05,189.80 L262.41,190.15 L262.77,190.50 L263.13,190.84 L263.49,191.19 L263.86,191.53 L264.22,191.87 L264.59,192.21 L264.96,192.55 L265.32,192.89 L265.69,193.23 L266.06,193.57 L266.43,193.90 L266.80,194.24 L267.17,194.58 L267.54,194.92 L267.91,195.25 L268.27,195.59 L268.64,195.93 L269.01,196.27 L269.38,196.61 L269.74,196.95 L270.11,197.30 L270.47,197.64 L270.83,197.99 L271.19,198.33 L271.55,198.68 L271.92,199.02 L272.28,199.37 L272.63,199.72 L272.99,200.07 L273.35,200.42 L273.71,200.77 L274.07,201.11 L274.43,201.46 L274.79,201.81 L275.15,202.16 L275.51,202.51 L275.87,202.86 L276.23,203.20 L276.59,203.55 L276.95,203.90 L277.31,204.24 L277.67,204.58 L278.04,204.93 L278.40,205.27 L278.77,205.61 L279.14,205.95 L279.50,206.29 L279.87,206.63 L280.25,206.96 L280.62,207.30 L280.99,207.63 L281.37,207.96 L281.74,208.29 L282.12,208.61 L282.50,208.94 L282.89,209.26 L283.27,209.58 L283.66,209.90 L284.05,210.21 L284.44,210.53 L284.83,210.84 L285.22,211.15 L285.62,211.45 L286.02,211.76 L286.42,212.06 L286.82,212.35 L287.22,212.65 L287.63,212.94 L288.04,213.23 L288.45,213.51 L288.86,213.79 L289.28,214.07 L289.70,214.35 L290.12,214.62 L290.54,214.89 L290.97,215.15 L291.39,215.41 L291.82,215.66 L292.26,215.91 L292.69,216.16 L293.13,216.40 L293.58,216.63 L294.02,216.86 L294.47,217.09 L294.92,217.30 L295.37,217.51 L295.83,217.72 L296.29,217.92 L296.75,218.11 L297.21,218.29 L297.68,218.47 L298.15,218.64 L298.63,218.80 L299.10,218.95 L299.58,219.09 L300.07,219.22 L300.55,219.34 L301.04,219.46 L301.53,219.56 L302.02,219.64 L302.52,219.72 L303.01,219.78 L303.51,219.83 L304.01,219.87 L304.51,219.89 L305.01,219.90 L305.51,219.90 L306.01,219.88 L306.51,219.84 L307.01,219.78 L307.50,219.72 L307.99,219.63 L308.48,219.53 L308.97,219.41 L309.45,219.28 L309.93,219.14 L310.41,218.99 L310.89,218.83 L311.36,218.67 L311.83,218.50 L312.30,218.33 L312.77,218.16 L313.24,217.98 L313.71,217.81 L314.18,217.64 L314.65,217.47 L315.12,217.31 L315.60,217.16 L316.08,217.01 L316.56,216.88 L317.04,216.75 L317.53,216.64 L318.02,216.55 L318.52,216.47 L319.02,216.42 L319.51,216.38 L320.01,216.37 L320.51,216.38 L321.01,216.41 L321.51,216.45 L322.01,216.52 L322.50,216.59 L323.00,216.68 L323.49,216.77 L323.98,216.87 L324.47,216.96 L324.96,217.06 L325.45,217.15 L325.94,217.24 L326.44,217.32 L326.93,217.39 L327.43,217.45 L327.93,217.50 L328.43,217.52 L328.93,217.53 L329.43,217.51 L329.93,217.46 L330.42,217.39 L330.91,217.30 L331.40,217.20 L331.89,217.09 L332.38,217.00 L332.88,216.93 L333.38,216.88 L333.88,216.88 L334.38,216.93 L334.86,217.03 L335.34,217.19 L335.79,217.41 L336.21,217.68 L336.60,217.99" stroke="#ff1414" stroke-width="1.3" fill="none" stroke-linejoin="round"/>
<path d="M44.00,216.56 L44.47,216.39 L44.95,216.23 L45.42,216.08 L45.90,215.92 L46.38,215.77 L46.85,215.63 L47.33,215.49 L47.81,215.35 L48.30,215.21 L48.78,215.08 L49.26,214.95 L49.74,214.82 L50.23,214.70 L50.71,214.58 L51.20,214.46 L51.68,214.34 L52.17,214.22 L52.66,214.10 L53.14,213.99 L53.63,213.88 L54.12,213.77 L54.61,213.66 L55.10,213.55 L55.58,213.44 L56.07,213.33 L56.56,213.22 L57.05,213.12 L57.54,213.01 L58.03,212.90 L58.51,212.80 L59.00,212.69 L59.49,212.58 L59.98,212.48 L60.47,212.37 L60.96,212.26 L61.45,212.15 L61.93,212.04 L62.42,211.93 L62.91,211.82 L63.40,211.71 L63.88,211.60 L64.37,211.48 L64.86,211.37 L65.34,211.25 L65.83,211.13 L66.31,211.01 L66.80,210.89 L67.28,210.76 L67.77,210.63 L68.25,210.50 L68.73,210.37 L69.21,210.24 L69.69,210.10 L70.17,209.96 L70.65,209.81 L71.13,209.67 L71.61,209.52 L72.08,209.36 L72.56,209.21 L73.03,209.05 L73.50,208.88 L73.98,208.71 L74.44,208.54 L74.91,208.37 L75.38,208.18 L75.84,208.00 L76.31,207.81 L76.77,207.61 L77.22,207.41 L77.68,207.21 L78.13,207.00 L78.59,206.78 L79.03,206.56 L79.48,206.33 L79.92,206.10 L80.36,205.86 L80.80,205.62 L81.23,205.37 L81.66,205.11 L82.08,204.85 L82.50,204.58 L82.92,204.30 L83.33,204.02 L83.74,203.73 L84.14,203.43 L84.54,203.13 L84.94,202.82 L85.33,202.51 L85.71,202.19 L86.09,201.86 L86.47,201.53 L86.84,201.20 L87.20,200.86 L87.57,200.51 L87.92,200.16 L88.27,199.81 L88.62,199.45 L88.97,199.08 L89.31,198.72 L89.64,198.34 L89.97,197.97 L90.30,197.59 L90.62,197.21 L90.94,196.82 L91.25,196.43 L91.56,196.04 L91.87,195.65 L92.17,195.25 L92.47,194.85 L92.77,194.44 L93.06,194.04 L93.35,193.63 L93.63,193.22 L93.91,192.80 L94.19,192.39 L94.46,191.97 L94.73,191.55 L95.00,191.13 L95.27,190.70 L95.53,190.28 L95.79,189.85 L96.04,189.42 L96.29,188.99 L96.54,188.55 L96.79,188.12 L97.04,187.68 L97.28,187.24 L97.52,186.80 L97.75,186.36 L97.99,185.92 L98.22,185.48 L98.45,185.04 L98.68,184.59 L98.90,184.14 L99.13,183.70 L99.35,183.25 L99.57,182.80 L99.79,182.35 L100.00,181.90 L100.22,181.45 L100.43,180.99 L100.64,180.54 L100.85,180.08 L101.05,179.63 L101.26,179.17 L101.46,178.72 L101.67,178.26 L101.87,177.80 L102.07,177.34 L102.27,176.88 L102.46,176.42 L102.66,175.96 L102.85,175.50 L103.05,175.04 L103.24,174.58 L103.43,174.12 L103.61,173.65 L103.80,173.19 L103.99,172.73 L104.17,172.26 L104.35,171.80 L104.54,171.33 L104.72,170.86 L104.89,170.40 L105.07,169.93 L105.25,169.46 L105.42,168.99 L105.60,168.52 L105.77,168.05 L105.94,167.58 L106.11,167.11 L106.28,166.64 L106.45,166.17 L106.62,165.70 L106.78,165.23 L106.95,164.76 L107.11,164.28 L107.27,163.81 L107.43,163.34 L107.59,162.86 L107.75,162.39 L107.91,161.92 L108.07,161.44 L108.22,160.97 L108.38,160.49 L108.53,160.01 L108.69,159.54 L108.84,159.06 L108.99,158.59 L109.14,158.11 L109.29,157.63 L109.44,157.15 L109.59,156.68 L109.74,156.20 L109.88,155.72 L110.03,155.24 L110.17,154.76 L110.32,154.29 L110.46,153.81 L110.61,153.33 L110.75,152.85 L110.89,152.37 L111.03,151.89 L111.17,151.41 L111.31,150.93 L111.45,150.45 L111.59,149.97 L111.73,149.49 L111.86,149.01 L112.00,148.52 L112.14,148.04 L112.27,147.56 L112.41,147.08 L112.55,146.60 L112.68,146.12 L112.82,145.64 L112.95,145.15 L113.08,144.67 L113.22,144.19 L113.35,143.71 L113.48,143.23 L113.62,142.74 L113.75,142.26 L113.88,141.78 L114.01,141.30 L114.14,140.82 L114.28,140.33 L114.41,139.85 L114.54,139.37 L114.67,138.89 L114.80,138.40 L114.93,137.92 L115.06,137.44 L115.19,136.96 L115.33,136.47 L115.46,135.99 L115.59,135.51 L115.72,135.02 L115.85,134.54 L115.98,134.06 L116.11,133.58 L116.24,133.09 L116.38,132.61 L116.51,132.13 L116.64,131.65 L116.77,131.17 L116.90,130.68 L117.04,130.20 L117.17,129.72 L117.30,129.24 L117.44,128.75 L117.57,128.27 L117.70,127.79 L117.84,127.31 L117.97,126.83 L118.11,126.35 L118.24,125.86 L118.38,125.38 L118.51,124.90 L118.65,124.42 L118.78,123.94 L118.92,123.46 L119.05,122.98 L119.19,122.49 L119.32,122.01 L119.46,121.53 L119.59,121.05 L119.73,120.57 L119.86,120.09 L120.00,119.61 L120.14,119.12 L120.27,118.64 L120.41,118.16 L120.54,117.68 L120.68,117.20 L120.81,116.72 L120.94,116.23 L121.08,115.75 L121.21,115.27 L121.35,114.79 L121.48,114.31 L121.61,113.83 L121.75,113.34 L121.88,112.86 L122.01,112.38 L122.15,111.90 L122.28,111.41 L122.41,110.93 L122.54,110.45 L122.67,109.97 L122.80,109.48 L122.94,109.00 L123.07,108.52 L123.20,108.04 L123.32,107.55 L123.45,107.07 L123.58,106.59 L123.71,106.10 L123.84,105.62 L123.96,105.14 L124.09,104.65 L124.22,104.17 L124.34,103.68 L124.47,103.20 L124.59,102.72 L124.72,102.23 L124.84,101.75 L124.96,101.26 L125.08,100.78 L125.20,100.29 L125.32,99.81 L125.44,99.32 L125.56,98.83 L125.68,98.35 L125.80,97.86 L125.92,97.38 L126.03,96.89 L126.15,96.40 L126.26,95.92 L126.38,95.43 L126.49,94.94 L126.60,94.46 L126.72,93.97 L126.83,93.48 L126.94,92.99 L127.04,92.50 L127.15,92.02 L127.26,91.53 L127.37,91.04 L127.47,90.55 L127.58,90.06 L127.68,89.57 L127.78,89.08 L127.88,88.59 L127.98,88.10 L128.08,87.61 L128.18,87.12 L128.28,86.63 L128.38,86.14 L128.47,85.65 L128.57,85.16 L128.66,84.67 L128.75,84.18 L128.84,83.68 L128.93,83.19 L129.02,82.70 L129.11,82.21 L129.19,81.72 L129.28,81.22 L129.36,80.73 L129.44,80.24 L129.52,79.74 L129.60,79.25 L129.68,78.76 L129.76,78.26 L129.84,77.77 L129.91,77.27 L129.99,76.78 L130.06,76.28 L130.13,75.79 L130.20,75.29 L130.27,74.80 L130.35,74.30 L130.42,73.81 L130.49,73.31 L130.56,72.82 L130.64,72.32 L130.71,71.83 L130.78,71.33 L130.86,70.84 L130.94,70.35 L131.02,69.85 L131.10,69.36 L131.18,68.87 L131.26,68.37 L131.35,67.88 L131.44,67.39 L131.53,66.90 L131.63,66.41 L131.73,65.92 L131.83,65.43 L131.93,64.94 L132.04,64.45 L132.16,63.96 L132.27,63.48 L132.39,62.99 L132.52,62.51 L132.65,62.02 L132.78,61.54 L132.92,61.06 L133.07,60.58 L133.22,60.11 L133.38,59.63 L133.54,59.16 L133.71,58.69 L133.88,58.22 L134.06,57.75 L134.25,57.29 L134.45,56.83 L134.65,56.37 L134.86,55.92 L135.07,55.47 L135.29,55.02 L135.52,54.57 L135.76,54.13 L136.03,53.71 L136.37,53.35 L136.82,53.16 L137.32,53.22 L137.77,53.42 L138.19,53.70 L138.57,54.02 L138.91,54.39 L139.22,54.78 L139.50,55.20 L139.75,55.63 L139.99,56.07 L140.21,56.52 L140.42,56.97 L140.61,57.43 L140.80,57.90 L140.98,58.36 L141.15,58.83 L141.32,59.30 L141.48,59.78 L141.63,60.25 L141.78,60.73 L141.92,61.21 L142.06,61.69 L142.19,62.17 L142.31,62.66 L142.43,63.14 L142.55,63.63 L142.66,64.12 L142.77,64.61 L142.87,65.09 L142.98,65.58 L143.08,66.07 L143.17,66.56 L143.27,67.05 L143.37,67.55 L143.47,68.04 L143.56,68.53 L143.66,69.02 L143.76,69.51 L143.86,70.00 L143.97,70.49 L144.07,70.98 L144.17,71.46 L144.28,71.95 L144.38,72.44 L144.49,72.93 L144.60,73.42 L144.71,73.91 L144.81,74.40 L144.92,74.88 L145.03,75.37 L145.15,75.86 L145.26,76.35 L145.37,76.83 L145.48,77.32 L145.60,77.81 L145.71,78.29 L145.83,78.78 L145.95,79.27 L146.06,79.75 L146.18,80.24 L146.30,80.72 L146.42,81.21 L146.54,81.70 L146.66,82.18 L146.78,82.67 L146.91,83.15 L147.03,83.64 L147.15,84.12 L147.28,84.60 L147.40,85.09 L147.53,85.57 L147.66,86.06 L147.78,86.54 L147.91,87.02 L148.04,87.51 L148.17,87.99 L148.30,88.47 L148.43,88.96 L148.56,89.44 L148.69,89.92 L148.83,90.40 L148.96,90.88 L149.09,91.37 L149.23,91.85 L149.36,92.33 L149.50,92.81 L149.63,93.29 L149.77,93.77 L149.91,94.25 L150.05,94.73 L150.19,95.21 L150.33,95.69 L150.47,96.17 L150.61,96.65 L150.75,97.13 L150.89,97.61 L151.03,98.09 L151.18,98.57 L151.32,99.05 L151.47,99.53 L151.61,100.01 L151.76,100.49 L151.90,100.96 L152.05,101.44 L152.20,101.92 L152.34,102.40 L152.49,102.88 L152.64,103.35 L152.79,103.83 L152.94,104.31 L153.09,104.78 L153.25,105.26 L153.40,105.74 L153.55,106.21 L153.70,106.69 L153.86,107.17 L154.01,107.64 L154.17,108.12 L154.32,108.59 L154.48,109.07 L154.63,109.54 L154.79,110.02 L154.95,110.49 L155.11,110.97 L155.26,111.44 L155.42,111.91 L155.58,112.39 L155.74,112.86 L155.90,113.34 L156.06,113.81 L156.22,114.28 L156.39,114.76 L156.55,115.23 L156.71,115.70 L156.87,116.17 L157.04,116.65 L157.20,117.12 L157.37,117.59 L157.53,118.06 L157.70,118.54 L157.86,119.01 L158.03,119.48 L158.20,119.95 L158.36,120.42 L158.53,120.89 L158.70,121.36 L158.87,121.83 L159.04,122.31 L159.21,122.78 L159.38,123.25 L159.55,123.72 L159.72,124.19 L159.89,124.66 L160.06,125.13 L160.23,125.60 L160.40,126.07 L160.58,126.54 L160.75,127.00 L160.92,127.47 L161.10,127.94 L161.27,128.41 L161.44,128.88 L161.62,129.35 L161.79,129.82 L161.97,130.29 L162.14,130.75 L162.32,131.22 L162.50,131.69 L162.67,132.16 L162.85,132.63 L163.03,133.09 L163.20,133.56 L163.38,134.03 L163.56,134.50 L163.74,134.96 L163.92,135.43 L164.10,135.90 L164.28,136.36 L164.45,136.83 L164.63,137.30 L164.81,137.76 L164.99,138.23 L165.18,138.70 L165.36,139.16 L165.54,139.63 L165.72,140.10 L165.90,140.56 L166.08,141.03 L166.26,141.49 L166.45,141.96 L166.63,142.42 L166.81,142.89 L166.99,143.36 L167.18,143.82 L167.36,144.29 L167.54,144.75 L167.73,145.22 L167.91,145.68 L168.09,146.15 L168.28,146.61 L168.46,147.08 L168.65,147.54 L168.83,148.01 L169.02,148.47 L169.20,148.94 L169.39,149.40 L169.57,149.86 L169.76,150.33 L169.94,150.79 L170.13,151.26 L170.32,151.72 L170.50,152.19 L170.69,152.65 L170.87,153.11 L171.06,153.58 L171.25,154.04 L171.43,154.51 L171.62,154.97 L171.81,155.43 L171.99,155.90 L172.18,156.36 L172.37,156.83 L172.56,157.29 L172.74,157.75 L172.93,158.22 L173.12,158.68 L173.32,159.14 L173.51,159.60 L173.70,160.06 L173.90,160.52 L174.09,160.98 L174.29,161.44 L174.49,161.90 L174.69,162.36 L174.89,162.82 L175.10,163.27 L175.30,163.73 L175.51,164.18 L175.72,164.64 L175.94,165.09 L176.15,165.54 L176.37,165.99 L176.59,166.44 L176.81,166.89 L177.04,167.33 L177.27,167.78 L177.50,168.22 L177.74,168.66 L177.98,169.10 L178.22,169.54 L178.47,169.97 L178.72,170.40 L178.97,170.83 L179.23,171.26 L179.49,171.69 L179.76,172.11 L180.03,172.53 L180.31,172.95 L180.59,173.36 L180.87,173.77 L181.16,174.18 L181.45,174.59 L181.75,174.99 L182.06,175.39 L182.37,175.78 L182.68,176.17 L183.00,176.55 L183.32,176.93 L183.65,177.31 L183.99,177.68 L184.33,178.05 L184.67,178.41 L185.03,178.76 L185.38,179.11 L185.75,179.46 L186.11,179.80 L186.49,180.13 L186.87,180.45 L187.25,180.77 L187.64,181.09 L188.04,181.39 L188.44,181.69 L188.84,181.99 L189.25,182.27 L189.67,182.55 L190.09,182.82 L190.51,183.08 L190.94,183.34 L191.38,183.59 L191.82,183.83 L192.26,184.06 L192.70,184.29 L193.15,184.51 L193.61,184.72 L194.06,184.93 L194.52,185.13 L194.98,185.32 L195.45,185.50 L195.92,185.68 L196.39,185.85 L196.86,186.01 L197.34,186.16 L197.81,186.31 L198.29,186.45 L198.78,186.58 L199.26,186.71 L199.75,186.83 L200.23,186.94 L200.72,187.04 L201.21,187.13 L201.71,187.22 L202.20,187.30 L202.70,187.37 L203.19,187.43 L203.69,187.49 L204.19,187.54 L204.69,187.57 L205.18,187.60 L205.68,187.62 L206.18,187.64 L206.68,187.64 L207.18,187.63 L207.68,187.61 L208.18,187.59 L208.68,187.55 L209.18,187.51 L209.68,187.45 L210.17,187.38 L210.67,187.31 L211.16,187.22 L211.65,187.12 L212.14,187.01 L212.62,186.89 L213.10,186.75 L213.58,186.61 L214.06,186.45 L214.53,186.28 L214.99,186.10 L215.45,185.91 L215.91,185.70 L216.36,185.48 L216.80,185.25 L217.24,185.01 L217.67,184.76 L218.10,184.49 L218.52,184.22 L218.93,183.94 L219.34,183.65 L219.74,183.34 L220.13,183.04 L220.51,182.72 L220.89,182.39 L221.27,182.06 L221.63,181.72 L222.00,181.37 L222.35,181.02 L222.70,180.66 L223.04,180.30 L223.38,179.93 L223.71,179.55 L224.03,179.17 L224.35,178.79 L224.66,178.40 L224.97,178.00 L225.28,177.61 L225.57,177.20 L225.87,176.80 L226.15,176.39 L226.44,175.98 L226.71,175.56 L226.99,175.14 L227.26,174.72 L227.52,174.30 L227.78,173.87 L228.04,173.44 L228.29,173.01 L228.54,172.58 L228.79,172.14 L229.03,171.70 L229.26,171.26 L229.50,170.82 L229.73,170.38 L229.96,169.93 L230.18,169.48 L230.40,169.03 L230.62,168.58 L230.83,168.13 L231.04,167.68 L231.25,167.22 L231.46,166.77 L231.66,166.31 L231.86,165.85 L232.06,165.39 L232.26,164.93 L232.45,164.47 L232.64,164.01 L232.83,163.55 L233.02,163.08 L233.20,162.62 L233.38,162.15 L233.57,161.69 L233.75,161.22 L233.92,160.75 L234.10,160.29 L234.28,159.82 L234.45,159.35 L234.63,158.88 L234.80,158.41 L234.98,157.94 L235.15,157.48 L235.33,157.01 L235.51,156.54 L235.68,156.07 L235.86,155.61 L236.05,155.14 L236.23,154.68 L236.42,154.21 L236.60,153.75 L236.79,153.29 L236.99,152.82 L237.18,152.36 L237.38,151.90 L237.58,151.45 L237.79,150.99 L237.99,150.54 L238.20,150.08 L238.42,149.63 L238.63,149.18 L238.85,148.73 L239.08,148.28 L239.31,147.84 L239.54,147.39 L239.77,146.95 L240.00,146.51 L240.24,146.07 L240.49,145.64 L240.75,145.21 L241.02,144.79 L241.31,144.38 L241.62,143.99 L241.97,143.63 L242.36,143.32 L242.80,143.08 L243.29,142.96 L243.78,142.99 L244.26,143.13 L244.71,143.34 L245.14,143.60 L245.54,143.90 L245.93,144.22 L246.29,144.56 L246.65,144.92 L246.98,145.29 L247.31,145.67 L247.62,146.06 L247.91,146.46 L248.20,146.87 L248.47,147.29 L248.73,147.72 L248.99,148.15 L249.24,148.58 L249.48,149.02 L249.72,149.46 L249.96,149.89 L250.21,150.33 L250.45,150.77 L250.69,151.21 L250.93,151.65 L251.17,152.08 L251.41,152.52 L251.65,152.96 L251.89,153.40 L252.13,153.84 L252.37,154.28 L252.61,154.71 L252.86,155.15 L253.10,155.59 L253.34,156.03 L253.58,156.47 L253.82,156.91 L254.06,157.35 L254.30,157.78 L254.54,158.22 L254.78,158.66 L255.02,159.10 L255.26,159.54 L255.50,159.98 L255.74,160.42 L255.98,160.86 L256.22,161.29 L256.46,161.73 L256.70,162.17 L256.94,162.61 L257.18,163.05 L257.42,163.49 L257.66,163.92 L257.90,164.36 L258.14,164.80 L258.38,165.24 L258.63,165.68 L258.87,166.11 L259.11,166.55 L259.35,166.99 L259.59,167.43 L259.84,167.86 L260.08,168.30 L260.32,168.74 L260.57,169.18 L260.81,169.61 L261.05,170.05 L261.30,170.49 L261.54,170.92 L261.79,171.36 L262.03,171.79 L262.28,172.23 L262.52,172.67 L262.77,173.10 L263.01,173.54 L263.26,173.97 L263.51,174.41 L263.75,174.84 L264.00,175.28 L264.25,175.71 L264.50,176.14 L264.75,176.58 L265.00,177.01 L265.25,177.44 L265.50,177.88 L265.75,178.31 L266.00,178.74 L266.25,179.17 L266.50,179.61 L266.75,180.04 L267.01,180.47 L267.26,180.90 L267.51,181.33 L267.77,181.76 L268.02,182.19 L268.28,182.62 L268.54,183.05 L268.79,183.48 L269.05,183.91 L269.31,184.34 L269.57,184.77 L269.83,185.19 L270.09,185.62 L270.35,186.05 L270.61,186.47 L270.87,186.90 L271.13,187.33 L271.40,187.75 L271.66,188.17 L271.93,188.60 L272.19,189.02 L272.46,189.44 L272.73,189.86 L273.00,190.29 L273.27,190.71 L273.55,191.12 L273.82,191.54 L274.09,191.96 L274.37,192.38 L274.65,192.79 L274.93,193.21 L275.21,193.62 L275.49,194.03 L275.78,194.45 L276.06,194.86 L276.35,195.27 L276.64,195.67 L276.93,196.08 L277.22,196.49 L277.51,196.89 L277.81,197.29 L278.11,197.70 L278.41,198.10 L278.71,198.50 L279.01,198.89 L279.32,199.29 L279.63,199.68 L279.94,200.08 L280.25,200.47 L280.56,200.86 L280.88,201.24 L281.19,201.63 L281.51,202.01 L281.84,202.40 L282.16,202.78 L282.49,203.16 L282.82,203.53 L283.15,203.91 L283.48,204.28 L283.82,204.65 L284.16,205.02 L284.50,205.38 L284.84,205.75 L285.19,206.11 L285.53,206.47 L285.88,206.83 L286.24,207.18 L286.59,207.53 L286.95,207.88 L287.31,208.23 L287.67,208.58 L288.04,208.92 L288.40,209.26 L288.77,209.59 L289.14,209.93 L289.52,210.26 L289.89,210.59 L290.27,210.92 L290.65,211.24 L291.04,211.56 L291.42,211.88 L291.81,212.20 L292.20,212.51 L292.59,212.82 L292.99,213.13 L293.38,213.43 L293.78,213.73 L294.18,214.03 L294.59,214.33 L294.99,214.62 L295.40,214.91 L295.81,215.20 L296.22,215.48 L296.64,215.76 L297.05,216.03 L297.48,216.30 L297.90,216.57 L298.33,216.83 L298.76,217.08 L299.19,217.33 L299.63,217.56 L300.08,217.80 L300.53,218.02 L300.98,218.23 L301.44,218.43 L301.90,218.62 L302.36,218.80 L302.84,218.97 L303.31,219.12 L303.79,219.26 L304.28,219.37 L304.77,219.47 L305.26,219.55 L305.76,219.61 L306.26,219.64 L306.76,219.64 L307.26,219.62 L307.76,219.57 L308.25,219.49 L308.74,219.38 L309.22,219.24 L309.69,219.07 L310.15,218.87 L310.59,218.64 L311.02,218.38 L311.44,218.11 L311.84,217.81 L312.24,217.51 L312.63,217.19 L313.01,216.87 L313.39,216.55 L313.77,216.22 L314.15,215.89 L314.53,215.57 L314.91,215.25 L315.30,214.94 L315.70,214.64 L316.11,214.35 L316.54,214.08 L316.97,213.84 L317.43,213.63 L317.89,213.45 L318.38,213.32 L318.87,213.24 L319.37,213.22 L319.87,213.25 L320.36,213.32 L320.85,213.42 L321.34,213.53 L321.82,213.66 L322.31,213.80 L322.79,213.94 L323.27,214.07 L323.75,214.19 L324.24,214.29 L324.74,214.38 L325.23,214.43 L325.73,214.45 L326.23,214.45 L326.73,214.42 L327.23,214.37 L327.73,214.31 L328.22,214.23 L328.71,214.15 L329.21,214.07 L329.70,213.98 L330.19,213.90 L330.69,213.83 L331.19,213.78 L331.68,213.74 L332.18,213.73 L332.68,213.75 L333.18,213.80 L333.67,213.90 L334.15,214.04 L334.62,214.22 L335.06,214.44 L335.49,214.70 L335.89,215.00 L336.27,215.33 L336.62,215.68" stroke="#158a15" stroke-width="1.3" fill="none" stroke-linejoin="round"/>
<path d="M252,39.7 H278.6" stroke="#158a15" stroke-width="1.5" opacity="0.85"/>
<text class="t" x="281.9" y="43.7" font-size="11" letter-spacing="0.3" fill="#1a1a1a">100%</text>
<path d="M252,54.1 H278.6" stroke="#ff1414" stroke-width="1.5" opacity="0.85"/>
<text class="t" x="281.9" y="58.1" font-size="11" letter-spacing="0.3" fill="#1a1a1a">50%</text>
<path d="M252,68.4 H278.6" stroke="#1414a6" stroke-width="1.5" opacity="0.85"/>
<text class="t" x="281.9" y="72.4" font-size="11" letter-spacing="0.3" fill="#1a1a1a">25%</text>
<path d="M252,82.6 H278.6" stroke="#0a8282" stroke-width="1.5" opacity="0.85"/>
<text class="t" x="281.9" y="86.6" font-size="11" letter-spacing="0.3" fill="#1a1a1a">12.5%</text>
<text x="366" y="14.2" font-size="18" font-weight="bold" fill="#111">b</text>
<path d="M407.7,3.9 V225.6" stroke="#7a7a7a" stroke-width="1.8" fill="none"/>
<path d="M403.3,225.6 H685" stroke="#444" stroke-width="1.2" fill="none"/>
<path d="M403.5,225.6 H407.7 M403.5,194.0 H407.7 M403.5,162.4 H407.7 M403.5,130.8 H407.7 M403.5,99.3 H407.7 M403.5,67.7 H407.7 M403.5,36.1 H407.7 M403.5,4.5 H407.7 M405.8,209.8 H407.7 M405.8,178.2 H407.7 M405.8,146.6 H407.7 M405.8,115.1 H407.7 M405.8,83.5 H407.7 M405.8,51.9 H407.7 M405.8,20.3 H407.7 M407.7,225.6 V229.6 M460.2,225.6 V229.6 M512.7,225.6 V229.6 M565.2,225.6 V229.6 M617.7,225.6 V229.6 M670.2,225.6 V229.6 M433.9,225.6 V227.6 M486.4,225.6 V227.6 M539.0,225.6 V227.6 M591.5,225.6 V227.6 M644.0,225.6 V227.6" stroke="#404040" stroke-width="1.1" fill="none"/>
<text class="t" x="400.6" y="228.5" font-size="9.8" text-anchor="end" letter-spacing="0.2" fill="#1a1a1a">0</text>
<text class="t" x="400.6" y="196.9" font-size="9.8" text-anchor="end" letter-spacing="0.2" fill="#1a1a1a">5</text>
<text class="t" x="400.6" y="165.3" font-size="9.8" text-anchor="end" letter-spacing="0.2" fill="#1a1a1a">10</text>
<text class="t" x="400.6" y="133.7" font-size="9.8" text-anchor="end" letter-spacing="0.2" fill="#1a1a1a">15</text>
<text class="t" x="400.6" y="102.2" font-size="9.8" text-anchor="end" letter-spacing="0.2" fill="#1a1a1a">20</text>
<text class="t" x="400.6" y="70.6" font-size="9.8" text-anchor="end" letter-spacing="0.2" fill="#1a1a1a">25</text>
<text class="t" x="400.6" y="39.0" font-size="9.8" text-anchor="end" letter-spacing="0.2" fill="#1a1a1a">30</text>
<text class="t" x="400.6" y="7.4" font-size="9.8" text-anchor="end" letter-spacing="0.2" fill="#1a1a1a">35</text>
<text class="t" x="408.1" y="240.7" font-size="9.8" text-anchor="middle" letter-spacing="0.2" fill="#1a1a1a">0</text>
<text class="t" x="460.6" y="240.7" font-size="9.8" text-anchor="middle" letter-spacing="0.2" fill="#1a1a1a">20</text>
<text class="t" x="513.1" y="240.7" font-size="9.8" text-anchor="middle" letter-spacing="0.2" fill="#1a1a1a">40</text>
<text class="t" x="565.6" y="240.7" font-size="9.8" text-anchor="middle" letter-spacing="0.2" fill="#1a1a1a">60</text>
<text class="t" x="618.1" y="240.7" font-size="9.8" text-anchor="middle" letter-spacing="0.2" fill="#1a1a1a">80</text>
<text class="t" x="670.6" y="240.7" font-size="9.8" text-anchor="middle" letter-spacing="0.2" fill="#1a1a1a">100</text>
<text x="473.2" y="263.8" font-size="13" fill="#1a1a1a" textLength="144.5" lengthAdjust="spacingAndGlyphs">Dilution (% REV in PBS)</text>
<text transform="translate(378.4,114.6) rotate(-90)" font-size="13.2" text-anchor="middle" fill="#1a1a1a" textLength="146.5" lengthAdjust="spacingAndGlyphs">Amide I integral (AUC)</text>
<path d="M440.5,184.4 V194.5 M438.2,184.4 H442.8 M438.2,194.5 H442.8 M473.4,159.4 V178.2 M471.1,159.4 H475.7 M471.1,178.2 H475.7 M539.5,128.7 V152.3 M537.2,128.7 H541.8 M537.2,152.3 H541.8 M670.6,50.2 V90.3 M668.3,50.2 H672.9 M668.3,90.3 H672.9" stroke="#666" stroke-width="1" fill="none"/>
<rect x="439.0" y="187.7" width="3" height="3" rx="0.6" fill="#111"/>
<rect x="471.9" y="167.1" width="3" height="3" rx="0.6" fill="#111"/>
<rect x="538.0" y="139.0" width="3" height="3" rx="0.6" fill="#111"/>
<rect x="669.1" y="68.4" width="3" height="3" rx="0.6" fill="#111"/>
<path d="M440.5,189.1 L670.5,71.1" stroke="#ff0000" stroke-width="1.9"/>
</svg>
</body></html>
